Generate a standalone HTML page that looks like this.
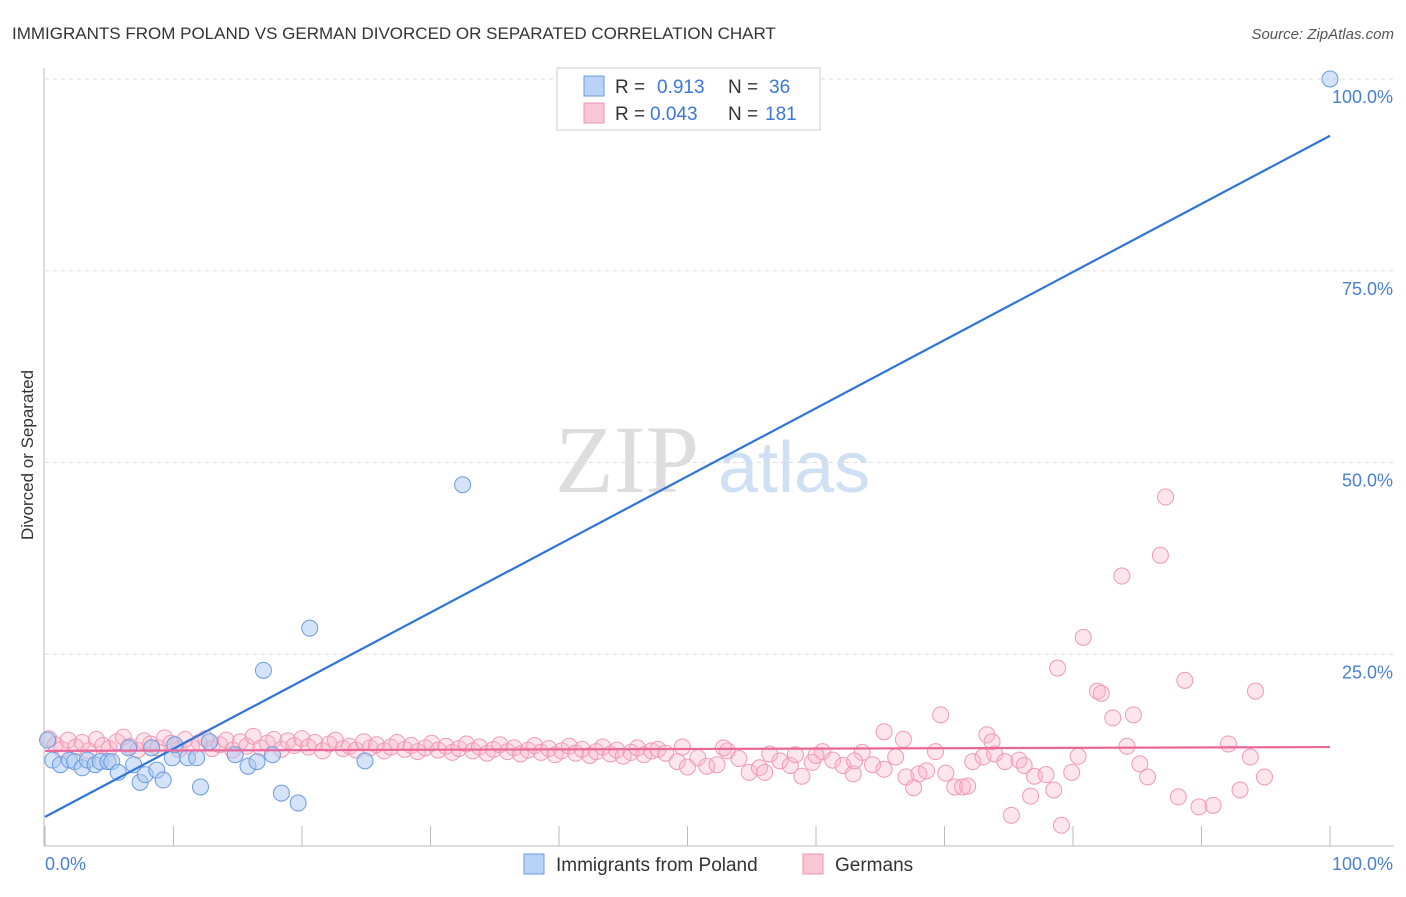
<!DOCTYPE html>
<html><head><meta charset="utf-8"><style>
body{margin:0;background:#fff;font-family:"Liberation Sans",sans-serif}
svg text{font-family:"Liberation Sans",sans-serif}
</style></head><body>
<svg id="chart" width="1406" height="892" viewBox="0 0 1406 892">
<text x="12" y="39" font-size="17" fill="#333">IMMIGRANTS FROM POLAND VS GERMAN DIVORCED OR SEPARATED CORRELATION CHART</text>
<text x="1394" y="39" font-size="15" fill="#555" text-anchor="end" font-style="italic">Source: ZipAtlas.com</text>
<g>
<text x="555" y="492" font-size="96" fill="#ddd" font-family="Liberation Serif" style="font-family:'Liberation Serif',serif">ZIP</text>
<text x="718" y="492" font-size="72" fill="#cfe0f5">atlas</text>
</g>
<g id="grid"></g>
<line x1="44" y1="68" x2="44" y2="846" stroke="#bbb"/>
<line x1="44" y1="846" x2="1394" y2="846" stroke="#bbb"/>
<g id="xticks"></g>
<g id="yticks"></g>
<text x="45" y="870" font-size="18" fill="#4a80d0">0.0%</text>
<text x="1393" y="870" font-size="18" fill="#4a80d0" text-anchor="end">100.0%</text>
<text transform="translate(33,455) rotate(-90)" font-size="17" fill="#333" text-anchor="middle">Divorced or Separated</text>
<g id="pink"></g>
<g id="blue"></g>
<g id="lines"></g>
<g>
<rect x="557" y="68" width="263" height="62" fill="#fff" stroke="#ccc"/>
<rect x="584" y="76" width="20" height="20" fill="#b8d3f5" stroke="#6a9be0"/>
<rect x="584" y="103" width="20" height="20" fill="#f9c6d5" stroke="#ee93b0"/>
<text x="615" y="93" font-size="19" fill="#333">R = </text><text x="657" y="93" font-size="19" fill="#3a78d8">0.913</text>
<text x="728" y="93" font-size="19" fill="#333">N = </text><text x="769" y="93" font-size="19" fill="#3a78d8">36</text>
<text x="615" y="120" font-size="19" fill="#333">R = </text><text x="650" y="120" font-size="19" fill="#3a78d8">0.043</text>
<text x="728" y="120" font-size="19" fill="#333">N = </text><text x="765" y="120" font-size="19" fill="#3a78d8">181</text>
</g>
<g>
<rect x="524" y="854" width="20" height="20" fill="#b8d3f5" stroke="#6a9be0"/>
<text x="556" y="871" font-size="19" fill="#333">Immigrants from Poland</text>
<rect x="803" y="854" width="20" height="20" fill="#f9c6d5" stroke="#ee93b0"/>
<text x="835" y="871" font-size="19" fill="#333">Germans</text>
</g>
</svg>
<script>
const yTicks=[25,50,75,100];
const xTickVals=[0,10,20,30,40,50,60,70,80,90,100];
const blueX=[0.2,0.6,1.2,1.9,2.3,2.9,3.3,3.9,4.3,4.9,5.2,5.7,6.5,6.9,7.4,7.8,8.3,8.7,9.2,9.9,10.1,11.1,11.8,12.1,12.8,14.8,15.8,16.5,17.0,17.7,18.4,19.7,20.6,24.9,32.5,100];
const blueY=[13.8,11.2,10.6,11.2,11.0,10.2,11.2,10.6,11.0,11.0,11.0,9.6,12.8,10.6,8.3,9.3,12.8,9.9,8.6,11.5,13.2,11.5,11.5,7.7,13.6,11.9,10.4,11.0,22.9,11.9,6.9,5.6,28.4,11.1,47.1,100];
const pinkX=[0.3,0.8,1.3,1.8,2.4,2.9,3.4,4.0,4.5,5.0,5.6,6.1,6.6,7.2,7.7,8.2,8.8,9.3,9.8,10.4,10.9,11.4,12.0,12.5,13.0,13.6,14.1,14.6,15.2,15.7,16.2,16.8,17.3,17.8,18.4,18.9,19.4,20.0,20.5,21.0,21.6,22.1,22.6,23.2,23.7,24.2,24.8,25.3,25.8,26.4,26.9,27.4,28.0,28.5,29.0,29.6,30.1,30.6,31.2,31.7,32.2,32.8,33.3,33.8,34.4,34.9,35.4,36.0,36.5,37.0,37.6,38.1,38.6,39.2,39.7,40.2,40.8,41.3,41.8,42.4,42.9,43.4,44.0,44.5,45.0,45.6,46.1,46.6,47.2,47.7,
48.3,49.2,50.0,50.8,51.5,52.3,53.1,54.0,54.8,55.6,56.4,57.2,58.0,58.9,59.7,60.5,61.3,62.1,62.9,63.6,64.4,65.3,66.2,67.0,68.0,67.6,68.6,69.3,70.1,70.8,71.4,71.8,72.2,73.0,73.9,74.7,75.2,75.8,76.2,77.0,76.7,77.9,78.5,78.8,79.1,79.9,80.4,80.8,81.9,82.2,83.1,83.8,84.2,84.7,85.2,85.8,86.8,87.2,88.2,88.7,89.8,90.9,92.1,93.0,93.8,94.2,94.9,65.3,69.7,73.3,73.7,60.0,56.0,52.8,49.6,66.8,63.0,58.4];
const pinkY=[14.0,13.2,12.6,13.8,12.9,13.5,12.4,13.9,13.1,12.7,13.6,14.2,13.0,12.5,13.7,13.3,12.8,14.1,13.4,12.6,13.9,12.9,13.5,14.0,12.7,13.2,13.8,12.5,13.6,13.0,14.3,12.8,13.4,13.9,12.6,13.7,13.1,14.0,12.9,13.5,12.4,13.3,13.8,12.7,13.0,12.5,13.6,12.8,13.2,12.4,12.9,13.5,12.6,13.1,12.3,12.8,13.4,12.5,13.0,12.2,12.7,13.3,12.4,12.9,12.1,12.6,13.2,12.3,12.8,12.0,12.5,13.1,12.2,12.7,11.9,12.4,13.0,12.1,12.6,11.8,12.3,12.9,12.0,12.5,11.7,12.2,12.8,11.9,12.4,12.6,
12.1,11.0,10.3,11.5,10.4,10.6,12.4,11.4,9.6,10.2,12.0,11.1,10.5,9.1,10.9,12.3,11.2,10.5,9.4,12.2,10.6,10.0,11.6,9.0,9.4,7.6,9.8,12.3,9.5,7.7,7.7,7.8,11.0,11.6,12.0,11.0,4.0,11.2,10.5,9.1,6.5,9.3,7.3,23.2,2.7,9.6,11.7,27.2,20.2,19.9,16.7,35.2,13.0,17.1,10.7,9.0,37.9,45.5,6.4,21.6,5.1,5.3,13.3,7.3,11.6,20.2,9.0,14.9,17.1,14.5,13.6,11.8,9.6,12.8,12.9,13.9,11.1,11.9];
const blueFit=[3.8,92.6];
const pinkFit=[12.4,12.9];
const X=v=>45+v*12.85, Y=v=>846-v*7.67;
const NS='http://www.w3.org/2000/svg';
function mk(tag,parent,attrs){const e=document.createElementNS(NS,tag);for(const k in attrs)e.setAttribute(k,attrs[k]);document.getElementById(parent).appendChild(e);return e;}
yTicks.forEach(t=>{
  const l=mk('line','grid',{x1:45,x2:1394,y1:Y(t),y2:Y(t),stroke:'#ddd','stroke-dasharray':'4,4'});
  
  
  const tx=mk('text','yticks',{x:1393,y:Y(t)+24,'font-size':18,fill:'#4a80d0','text-anchor':'end'});
  tx.textContent=t.toFixed(1)+'%';
  
  
});
xTickVals.forEach(t=>{
  const l=mk('line','xticks',{x1:X(t),x2:X(t),y1:826,y2:846,stroke:'#bbb'});
  
  
});
pinkX.forEach((x,i)=>{
  const c=mk('circle','pink',{cx:X(x),cy:Y(pinkY[i]),r:8,fill:'rgba(248,180,200,0.35)',stroke:'#f09ab5','stroke-width':1});
  
  
});
blueX.forEach((x,i)=>{
  const c=mk('circle','blue',{cx:X(x),cy:Y(blueY[i]),r:8,fill:'rgba(170,200,240,0.5)',stroke:'#6a9be0','stroke-width':1});
  
  
});
const bl=mk('line','lines',{x1:X(0),y1:Y(blueFit[0]),x2:X(100),y2:Y(blueFit[1]),stroke:'#2f74d6','stroke-width':2.2});


const pl=mk('line','lines',{x1:X(0),y1:Y(pinkFit[0]),x2:X(100),y2:Y(pinkFit[1]),stroke:'#e8689a','stroke-width':2.2});


</script>
</body></html>
